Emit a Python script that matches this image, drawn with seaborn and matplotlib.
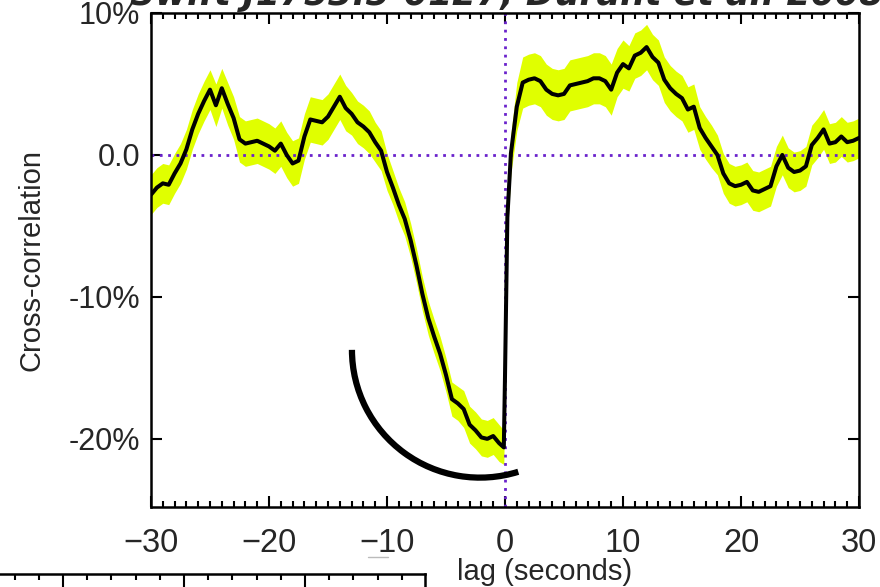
import numpy as np
import pandas as pd
import seaborn as sns
import matplotlib
matplotlib.use("Agg")
import matplotlib.pyplot as plt
from matplotlib.patches import Arc
from matplotlib.ticker import MultipleLocator, FixedLocator
from matplotlib.lines import Line2D

# ---------------- data ----------------
lag = [-30.0, -29.5, -29.0, -28.5, -28.0, -27.5, -27.0, -26.5, -26.0, -25.5,
       -25.0, -24.5, -24.0, -23.5, -23.0, -22.5, -22.0, -21.5, -21.0, -20.5,
       -20.0, -19.5, -19.0, -18.5, -18.0, -17.5, -17.0, -16.5, -16.0, -15.5,
       -15.0, -14.5, -14.0, -13.5, -13.0, -12.5, -12.0, -11.5, -11.0, -10.5,
       -10.0, -9.5, -9.0, -8.5, -8.0, -7.5, -7.0, -6.5, -6.0, -5.5,
       -5.0, -4.5, -4.0, -3.5, -3.0, -2.5, -2.0, -1.5, -1.0, -0.5,
       -0.1, 0.0, 0.2, 0.5, 1.0, 1.5, 2.0, 2.5, 3.0, 3.5,
       4.0, 4.5, 5.0, 5.5, 6.0, 6.5, 7.0, 7.5, 8.0, 8.5,
       9.0, 9.5, 10.0, 10.5, 11.0, 11.5, 12.0, 12.5, 13.0, 13.5,
       14.0, 14.5, 15.0, 15.5, 16.0, 16.5, 17.0, 17.5, 18.0, 18.5,
       19.0, 19.5, 20.0, 20.5, 21.0, 21.5, 22.0, 22.5, 23.0, 23.5,
       24.0, 24.5, 25.0, 25.5, 26.0, 26.5, 27.0, 27.5, 28.0, 28.5,
       29.0, 29.5, 30.0]

xcorr = [-2.8, -2.3, -2.0, -2.1, -1.3, -0.6, 0.4, 1.8, 2.9, 3.8,
         4.6, 3.5, 4.7, 3.6, 2.6, 1.1, 0.8, 0.9, 1.0, 0.8,
         0.6, 0.3, 0.8, 0.0, -0.6, -0.4, 1.3, 2.5, 2.4, 2.3,
         2.7, 3.4, 4.1, 3.3, 2.9, 2.3, 2.0, 1.6, 0.9, 0.3,
         -1.2, -2.3, -3.5, -4.5, -6.0, -7.8, -9.8, -11.5, -12.8, -14.0,
         -15.5, -17.2, -17.5, -17.9, -19.0, -19.4, -19.9, -20.0, -19.8, -20.3,
         -20.6, -15.6, -4.4, 0.1, 3.4, 5.1, 5.3, 5.4, 5.2, 4.6,
         4.3, 4.2, 4.3, 4.9, 5.0, 5.1, 5.2, 5.4, 5.4, 5.2,
         4.6, 5.8, 6.4, 6.1, 7.0, 7.2, 7.6, 6.9, 6.5, 5.3,
         4.7, 4.3, 4.0, 3.2, 3.4, 1.9, 1.2, 0.6, 0.0, -1.3,
         -2.0, -2.2, -2.1, -1.9, -2.5, -2.6, -2.4, -2.2, -0.8, 0.0,
         -0.9, -1.2, -1.1, -0.8, 0.7, 1.2, 1.8, 0.8, 0.9, 1.3,
         0.9, 1.0, 1.2]

err = [1.4, 1.4, 1.4, 1.4, 1.4, 1.4, 1.4, 1.4, 1.4, 1.4,
       1.4, 1.5, 1.4, 1.5, 1.5, 1.6, 1.6, 1.6, 1.6, 1.6,
       1.6, 1.6, 1.6, 1.6, 1.6, 1.6, 1.6, 1.6, 1.6, 1.6,
       1.6, 1.6, 1.6, 1.6, 1.5, 1.5, 1.5, 1.5, 1.4, 1.4,
       1.3, 1.2, 1.2, 1.2, 1.2, 1.2, 1.2, 1.2, 1.2, 1.2,
       1.2, 1.2, 1.2, 1.3, 1.3, 1.3, 1.3, 1.3, 1.3, 1.3,
       1.2, 0.8, 1.2, 1.4, 1.7, 1.8, 1.8, 1.8, 1.8, 1.8,
       1.8, 1.8, 1.8, 1.8, 1.8, 1.8, 1.8, 1.8, 1.8, 1.8,
       1.8, 1.7, 1.7, 1.6, 1.6, 1.6, 1.6, 1.6, 1.6, 1.6,
       1.6, 1.6, 1.6, 1.6, 1.6, 1.5, 1.5, 1.5, 1.4, 1.4,
       1.4, 1.4, 1.4, 1.4, 1.4, 1.4, 1.4, 1.4, 1.4, 1.4,
       1.4, 1.4, 1.4, 1.4, 1.4, 1.4, 1.4, 1.4, 1.4, 1.4,
       1.4, 1.4, 1.4]

x_ticks = [-30, -20, -10, 0, 10, 20, 30]
y_ticks = [-20, -10, 0, 10]
y_tick_labels = ["-20%", "-10%", "0.0", "10%"]
title_text = "Swift J1753.5-0127, Durant et al. 2008"

# annotation arc (centre in data units, size in data units, angles)
arc_center = (-2.12, -13.73)
arc_width, arc_height = 21.7, 18.0
arc_theta1, arc_theta2 = 180, 290.7

df = pd.DataFrame({"lag": lag, "xcorr": xcorr, "err": err})
df["lo"] = df["xcorr"] - df["err"]
df["hi"] = df["xcorr"] + df["err"]

# ---------------- styling ----------------
sns.set_theme(style="white")
plt.rcParams["font.family"] = ["Liberation Sans", "DejaVu Sans"]

W, H = 880, 587
fig = plt.figure(figsize=(W / 100, H / 100), dpi=100)
ax = fig.add_axes([151 / W, 1 - 507 / H, (859 - 151) / W, (507 - 13) / H])

band_color = "#e0ff00"
dot_color = "#6a22cc"

ax.fill_between(df["lag"], df["lo"], df["hi"], color=band_color, lw=0, zorder=1)
sns.lineplot(data=df, x="lag", y="xcorr", ax=ax, color="black", lw=2.9,
             zorder=3, estimator=None, sort=False)

ax.axhline(0, color=dot_color, lw=2.0, ls=(0, (1, 2.0)), zorder=2)
ax.axvline(0, color=dot_color, lw=2.0, ls=(0, (1, 2.0)), zorder=2)

arc = Arc(arc_center, arc_width, arc_height, theta1=arc_theta1, theta2=arc_theta2,
          color="black", lw=4.5, zorder=4, capstyle="butt")
ax.add_patch(arc)

ax.set_xlim(-30, 30)
ax.set_ylim(-24.8, 10)
ax.xaxis.set_major_locator(FixedLocator(x_ticks))
ax.xaxis.set_minor_locator(MultipleLocator(1))
ax.yaxis.set_major_locator(FixedLocator(y_ticks))
ax.set_yticklabels(y_tick_labels)

ax.tick_params(axis="x", which="both", direction="in", top=True, bottom=True,
               color="black", width=1.5)
ax.tick_params(axis="x", which="major", length=8, pad=15, labelsize=23.5)
ax.tick_params(axis="x", which="minor", length=4.3)
ax.tick_params(axis="y", which="major", direction="in", left=True, right=True,
               length=8, width=1.5, pad=8, labelsize=22, color="black")
for s in ax.spines.values():
    s.set_visible(True)
    s.set_color("black")
    s.set_linewidth(1.8)
ax.set_facecolor("white")

ax.set_xlabel("lag (seconds)", fontsize=21)
ax.xaxis.set_label_coords((545 - 151) / (859 - 151), -(572 - 507) / (507 - 13))
ax.xaxis.label.set_va("center")
ax.set_ylabel("Cross-correlation", fontsize=21)
ax.yaxis.set_label_coords(-(151 - 31) / (859 - 151), 0.5)
ax.yaxis.label.set_va("center")
ax.grid(False)

# title, clipped by the top edge of the figure as in the reference
fig.text(130 / W, 1 - 5 / H, title_text, fontsize=25, fontweight="bold",
         ha="left", va="baseline", family=["DejaVu Sans"], style="italic",
         zorder=0)

# top edge of a neighbouring panel, visible at the bottom-left
ax2 = fig.add_axes([-176 / W, -0.1, (425 + 176) / W, 0.1 + (587 - 574) / H])
ax2.set_xlim(0.122, 24.96)
ax2.set_ylim(0, 1)
ax2.xaxis.set_major_locator(MultipleLocator(5))
ax2.xaxis.set_minor_locator(MultipleLocator(1))
ax2.tick_params(axis="x", which="both", direction="in", top=True, bottom=False,
                labeltop=False, labelbottom=False, width=1.5, color="black")
ax2.tick_params(axis="x", which="major", length=10)
ax2.tick_params(axis="x", which="minor", length=4.3)
ax2.tick_params(axis="y", left=False, right=False, labelleft=False)
ax2.set_facecolor("none")
for k, s in ax2.spines.items():
    s.set_color("black")
    s.set_linewidth(1.8)
    s.set_visible(k in ("top", "right"))
ax2.grid(False)

fig.add_artist(Line2D([368 / W, 388 / W], [1 - 557 / H, 1 - 557 / H],
                      color="#bbbbbb", lw=1))

fig.savefig("out.png", dpi=100, facecolor="white")
